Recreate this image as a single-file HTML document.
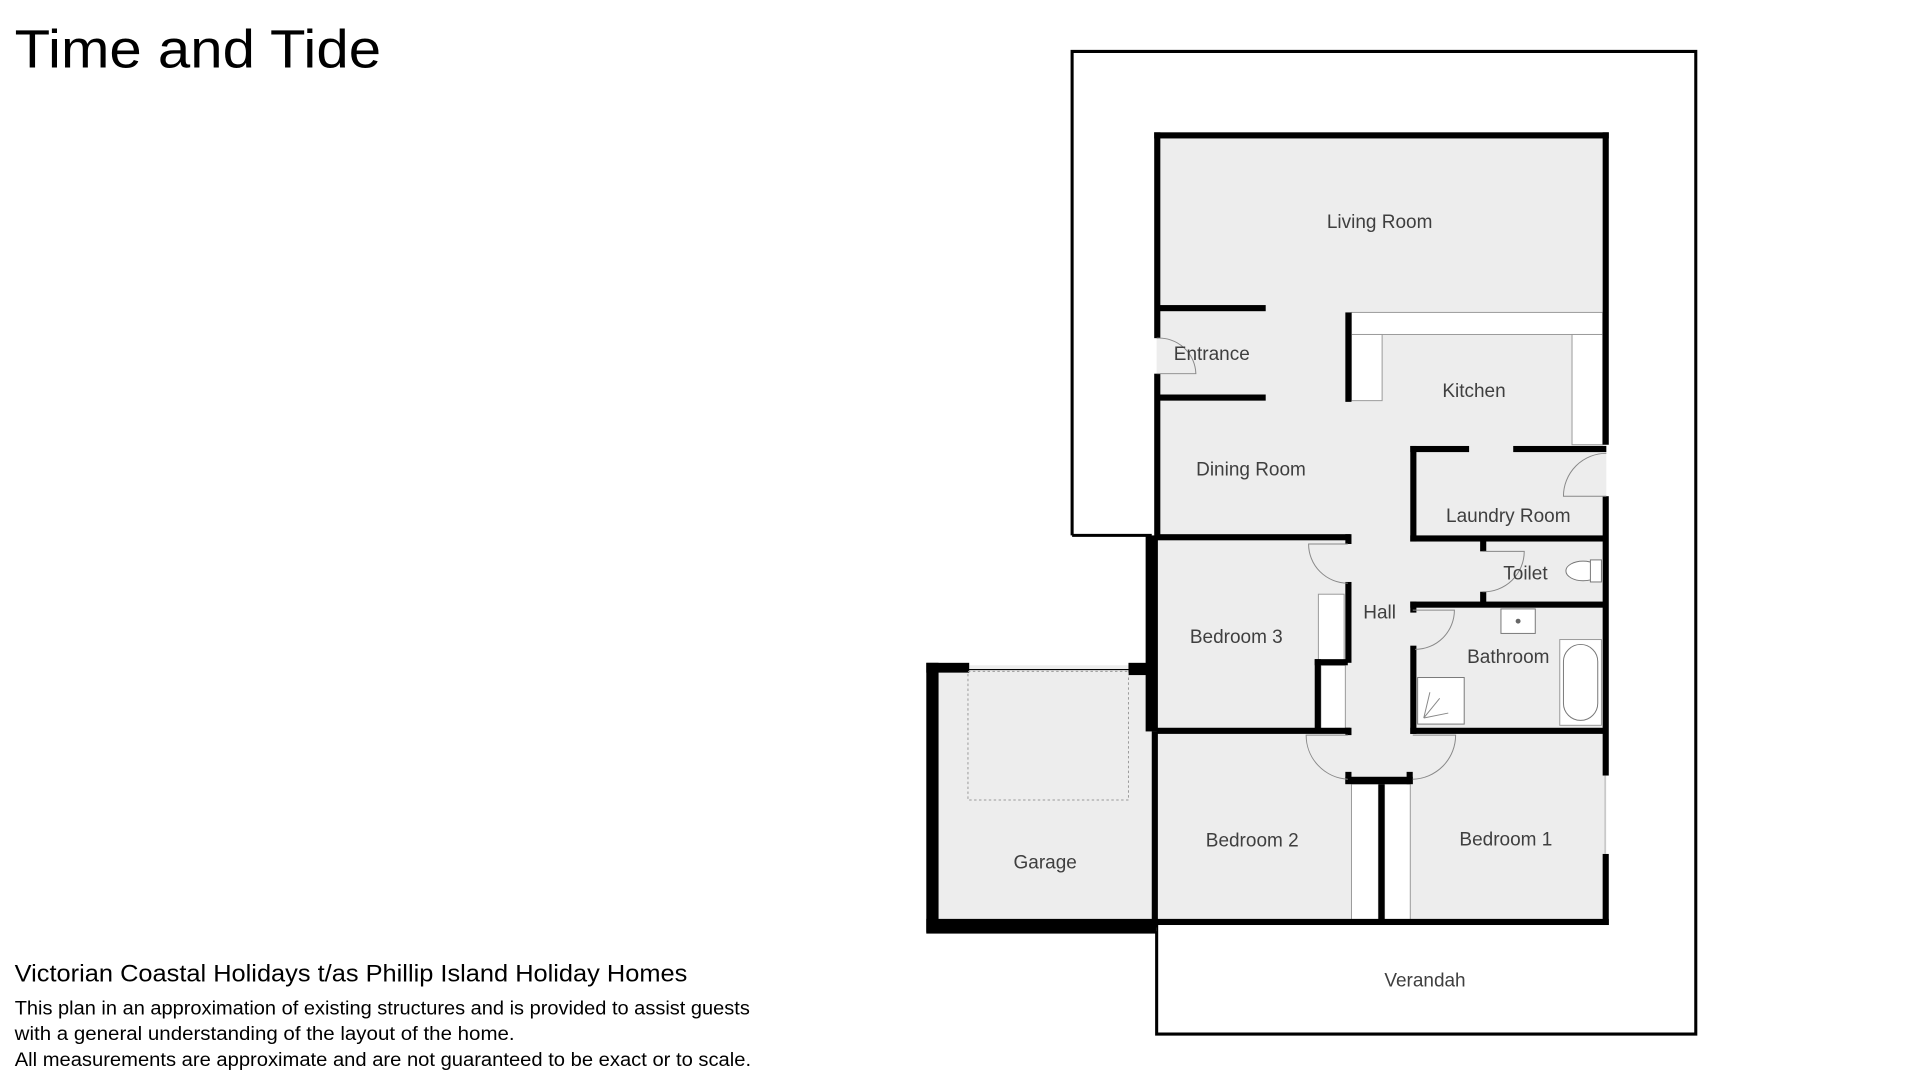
<!DOCTYPE html>
<html><head><meta charset="utf-8"><style>
html,body{margin:0;padding:0;background:#fff;}
svg{display:block;}
.l{font-family:"Liberation Sans",sans-serif;font-size:15.5px;fill:#3f3f3f;text-anchor:middle;}
.t{font-family:"Liberation Sans",sans-serif;fill:#000;}
.w{fill:#000;}
.c{fill:#fff;stroke:#999;stroke-width:0.8;}
.d{fill:none;stroke:#888;stroke-width:0.8;}
</style></head><body>
<svg width="1920" height="1080" viewBox="0 0 1567 881.5" preserveAspectRatio="none" xmlns="http://www.w3.org/2000/svg">
<rect width="1567" height="882" fill="#fff"/>
<polyline points="875,437 875,42 1384,42 1384,844 944,844 944,755" fill="none" stroke="#000" stroke-width="2.5"/>
<line x1="875" y1="437" x2="940" y2="437" stroke="#000" stroke-width="2.5"/>
<rect x="944" y="110" width="367" height="643" fill="#ededed"/>
<rect x="756" y="543" width="188" height="217" fill="#ededed"/>
<rect class="c" x="1103" y="255" width="205" height="18"/>
<rect class="c" x="1103" y="273" width="25" height="54"/>
<rect class="c" x="1283" y="273" width="25" height="90"/>
<rect class="c" x="1076" y="485" width="21" height="55"/>
<rect class="c" x="1078" y="543" width="20" height="52"/>
<rect class="c" x="1103" y="640" width="22" height="112"/>
<rect class="c" x="1130" y="640" width="21" height="112"/>
<g class="w">
<rect x="942" y="108" width="371" height="5"/>
<rect x="942" y="108" width="5" height="168"/>
<rect x="942" y="305" width="5" height="135"/>
<rect x="935" y="437" width="10" height="160"/>
<rect x="940" y="597" width="5" height="160"/>
<rect x="921" y="541" width="20" height="10"/>
<rect x="1308" y="108" width="5" height="255"/>
<rect x="1308" y="405" width="5" height="228"/>
<rect x="1308" y="697" width="5" height="58"/>
<rect x="942" y="750" width="371" height="5"/>
<rect x="944" y="249" width="89" height="5"/>
<rect x="944" y="322" width="89" height="5"/>
<rect x="1098" y="255" width="5" height="73"/>
<rect x="1151" y="364" width="48" height="5"/>
<rect x="1235" y="364" width="76" height="5"/>
<rect x="1151" y="364" width="5" height="78"/>
<rect x="1151" y="437" width="160" height="5"/>
<rect x="944" y="436" width="158" height="5"/>
<rect x="1098" y="436" width="5" height="8"/>
<rect x="1098" y="475" width="5" height="66"/>
<rect x="1073" y="538" width="27" height="5"/>
<rect x="1073" y="538" width="5" height="58"/>
<rect x="944" y="594" width="158" height="5"/>
<rect x="1208" y="440" width="5" height="10"/>
<rect x="1208" y="483" width="5" height="10"/>
<rect x="1151" y="491" width="160" height="5"/>
<rect x="1151" y="491" width="5" height="9"/>
<rect x="1151" y="527" width="5" height="72"/>
<rect x="1151" y="594" width="160" height="5"/>
<rect x="1098" y="594" width="5" height="6"/>
<rect x="1098" y="634" width="55" height="6"/>
<rect x="1098" y="630" width="5" height="10"/>
<rect x="1148" y="630" width="5" height="10"/>
<rect x="1125" y="640" width="5" height="112"/>
<rect x="756" y="541" width="10" height="220"/>
<rect x="756" y="750" width="188" height="12"/>
<rect x="756" y="541" width="35" height="8"/>
</g>
<line x1="790" y1="546.5" x2="922" y2="546.5" stroke="#000" stroke-width="1"/>
<rect x="790" y="548" width="131" height="105" fill="none" stroke="#999" stroke-width="0.8" stroke-dasharray="2,2"/>
<path class="d" d="M944,276 A30,30 0 0 1 976,305 L944,305"/>
<path class="d" d="M1311,370 A35,35 0 0 0 1276,405 L1311,405" fill="#ededed"/>
<path class="d" d="M1100,444 L1068,444 A32,32 0 0 0 1100,476"/>
<path class="d" d="M1210,450 L1244,450 A33,33 0 0 1 1210,483"/>
<path class="d" d="M1153,498 L1187,498 A32,32 0 0 1 1155,530"/>
<path class="d" d="M1100,600 L1066,600 A36,36 0 0 0 1100,636"/>
<path class="d" d="M1153,600 L1188,600 A36,36 0 0 1 1153,636"/>
<line x1="1310" y1="633" x2="1310" y2="697" stroke="#bbb" stroke-width="1"/>
<ellipse cx="1292" cy="466" rx="14" ry="8" fill="#fff" stroke="#777" stroke-width="0.8"/>
<rect x="1298" y="457" width="9" height="18" fill="#fff" stroke="#777" stroke-width="0.8"/>
<rect x="1225" y="497" width="28" height="20" fill="#fff" stroke="#777" stroke-width="0.8"/>
<circle cx="1239" cy="507" r="2" fill="#666"/>
<rect x="1273" y="522" width="34" height="70" fill="#fff" stroke="#999" stroke-width="0.8"/>
<rect x="1276" y="526" width="28" height="62" rx="14" fill="#fff" stroke="#777" stroke-width="0.8"/>
<rect x="1157" y="553" width="38" height="38" fill="#fff" stroke="#777" stroke-width="0.8"/>
<path d="M1162,586 L1167,565 M1162,586 L1175,570 M1162,586 L1182,582" stroke="#888" stroke-width="0.8"/>
<text class="l" x="1126" y="186">Living Room</text>
<text class="l" x="989" y="294">Entrance</text>
<text class="l" x="1203" y="324">Kitchen</text>
<text class="l" x="1021" y="388">Dining Room</text>
<text class="l" x="1231" y="426">Laundry Room</text>
<text class="l" x="1245" y="473">Toilet</text>
<text class="l" x="1126" y="505">Hall</text>
<text class="l" x="1009" y="525">Bedroom 3</text>
<text class="l" x="1231" y="541">Bathroom</text>
<text class="l" x="853" y="709">Garage</text>
<text class="l" x="1022" y="691">Bedroom 2</text>
<text class="l" x="1229" y="690">Bedroom 1</text>
<text class="l" x="1163" y="805">Verandah</text>
<text class="t" x="12" y="55" font-size="44" textLength="299" lengthAdjust="spacingAndGlyphs">Time and Tide</text>
<text class="t" x="12" y="801" font-size="20" textLength="549" lengthAdjust="spacingAndGlyphs">Victorian Coastal Holidays t/as Phillip Island Holiday Homes</text>
<text class="t" x="12" y="828" font-size="16" textLength="600" lengthAdjust="spacingAndGlyphs">This plan in an approximation of existing structures and is provided to assist guests</text>
<text class="t" x="12" y="849" font-size="16" textLength="408" lengthAdjust="spacingAndGlyphs">with a general understanding of the layout of the home.</text>
<text class="t" x="12" y="870" font-size="16" textLength="601" lengthAdjust="spacingAndGlyphs">All measurements are approximate and are not guaranteed to be exact or to scale.</text>
</svg>
</body></html>
